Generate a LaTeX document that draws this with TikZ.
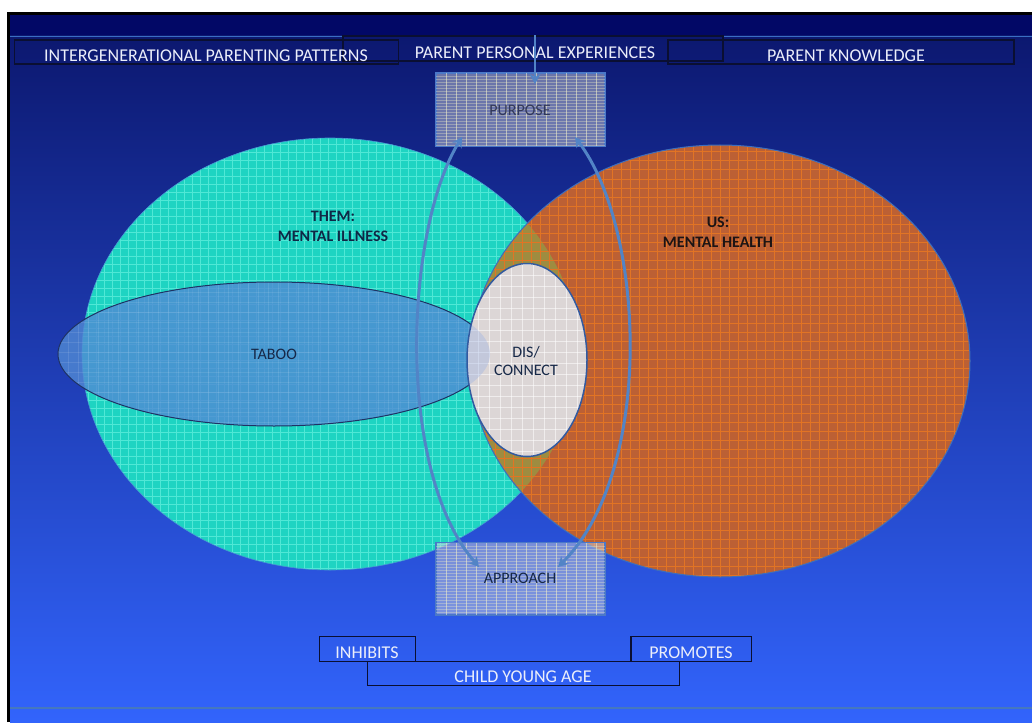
\documentclass[tikz,border=0pt]{standalone}
\usepackage{fontspec}
\setmainfont{Carlito}
\usetikzlibrary{arrows.meta}
\definecolor{navytop}{RGB}{2,8,102}
\definecolor{gradtop}{RGB}{12,24,112}
\definecolor{gradbot}{RGB}{50,100,252}
\definecolor{topline}{RGB}{58,110,195}
\definecolor{botline}{RGB}{70,120,190}
\definecolor{cyanfill}{RGB}{30,212,194}
\definecolor{cyangrid}{RGB}{80,232,214}
\definecolor{cyanedge}{RGB}{70,150,210}
\definecolor{orangefill}{RGB}{188,96,52}
\definecolor{orangegrid}{RGB}{226,116,36}
\definecolor{olivefill}{RGB}{158,140,64}
\definecolor{orangeedge}{RGB}{60,110,190}
\definecolor{taboofill}{RGB}{81,138,212}
\definecolor{tabooedge}{RGB}{30,50,100}
\definecolor{tabootint}{RGB}{150,175,230}
\definecolor{disfill}{RGB}{220,214,214}
\definecolor{disedge}{RGB}{50,90,160}
\definecolor{boxfill}{RGB}{200,205,218}
\definecolor{boxgrid}{RGB}{238,236,200}
\definecolor{boxedge}{RGB}{75,120,200}
\definecolor{arrowblue}{RGB}{82,132,198}
\definecolor{lbledge}{RGB}{10,15,50}
\definecolor{lbltext}{RGB}{235,238,250}
\definecolor{txtdark}{RGB}{22,40,72}
\definecolor{txtthem}{RGB}{15,40,70}
\definecolor{txtus}{RGB}{28,20,20}
\definecolor{txtpurpose}{RGB}{50,56,88}
\tikzset{
  lblbox/.style={draw=lbledge, line width=1.2pt, inner sep=0pt, fill=none},
  toptext/.style={text=lbltext, inner sep=0pt, font=\fontsize{18}{21}\selectfont},
  bodytext/.style={text=txtdark, inner sep=0pt, align=center, font=\fontsize{16}{20}\selectfont},
  boldtext/.style={inner sep=0pt, align=center, font=\fontsize{16}{20}\selectfont\bfseries},
  gridbox/.style={draw=boxedge, line width=1.2pt, fill=boxfill, fill opacity=0.5, inner sep=0pt},
  gline/.style={line width=0.7pt, draw=cyangrid},
  oline/.style={line width=1pt, draw=orangegrid},
  bvline/.style={line width=0.6pt, draw=boxgrid, opacity=0.6},
  bhline/.style={line width=0.5pt, draw=boxgrid, opacity=0.35},
  darr/.style={line width=3pt, draw=arrowblue, {Stealth[length=10pt,width=11pt]}-{Stealth[length=10pt,width=11pt]}},
  sarr/.style={line width=2.6pt, draw=arrowblue, -{Stealth[length=10pt,width=11pt]}}
}
\begin{document}
\begin{tikzpicture}[x=1pt,y=-1pt]
\useasboundingbox (0,0) rectangle (1032,722);
\fill[white] (0,0) rectangle (1032,722);
% slide background
\fill[navytop] (10,15) rectangle (1032,36);
\shade[top color=gradtop, bottom color=gradbot] (10,36) rectangle (1032,722);
\draw[black, line width=3pt] (8.5,722) -- (8.5,13.5) -- (1032,13.5);
\draw[topline, line width=1.5pt] (10,36.5) -- (343,36.5);
\draw[topline, line width=1.5pt] (723,36.5) -- (1032,36.5);
\draw[botline, line width=1.2pt] (10,708) -- (1032,708);

% THEM ellipse (cyan)
\begin{scope}
  \clip (330,354) ellipse [x radius=248, y radius=216];
  \fill[cyanfill] (80,136) rectangle (580,572);
  \foreach \i in {0,...,63} \draw[gline] (80+8*\i,136) -- (80+8*\i,572);
  \foreach \i in {0,...,55} \draw[gline] (80,136+8*\i) -- (580,136+8*\i);
\end{scope}
\draw[cyanedge, line width=0.6pt] (330,354) ellipse [x radius=248, y radius=216];

% US ellipse (orange)
\begin{scope}
  \clip (720,361) ellipse [x radius=250, y radius=216];
  \fill[orangefill] (468,143) rectangle (972,579);
  \foreach \i in {0,...,56} \draw[oline] (468+9*\i,143) -- (468+9*\i,579);
  \foreach \i in {0,...,49} \draw[oline] (468,143+9*\i) -- (972,143+9*\i);
\end{scope}
% overlap
\begin{scope}
  \clip (330,354) ellipse [x radius=248, y radius=216];
  \clip (720,361) ellipse [x radius=250, y radius=216];
  \fill[olivefill] (468,143) rectangle (600,579);
  \foreach \i in {0,...,15} \draw[oline] (468+9*\i,143) -- (468+9*\i,579);
  \foreach \i in {0,...,49} \draw[oline] (468,143+9*\i) -- (600,143+9*\i);
\end{scope}
\draw[orangeedge, line width=1pt] (720,361) ellipse [x radius=250, y radius=216];

% TABOO ellipse
\fill[taboofill, fill opacity=0.8] (274,354) ellipse [x radius=216, y radius=72];
\begin{scope}
  \clip (274,354) ellipse [x radius=216, y radius=72];
  \foreach \i in {0,...,43} \draw[white, opacity=0.1, line width=0.6pt] (58+10*\i,280) -- (58+10*\i,428);
  \foreach \i in {0,...,15} \draw[white, opacity=0.1, line width=0.6pt] (58,282+10*\i) -- (492,282+10*\i);
\end{scope}
\draw[tabooedge, line width=1pt] (274,354) ellipse [x radius=216, y radius=72];

% DIS/CONNECT ellipse
\fill[disfill] (527,360) ellipse [x radius=60, y radius=96.5];
\begin{scope}
  \clip (527,360) ellipse [x radius=60, y radius=96.5];
  \foreach \i in {0,...,11} \draw[white, opacity=0.55, line width=0.8pt] (467+11*\i,262) -- (467+11*\i,458);
  \foreach \i in {0,...,18} \draw[white, opacity=0.55, line width=0.8pt] (466,264+11*\i) -- (588,264+11*\i);
  \fill[tabootint, fill opacity=0.35] (274,354) ellipse [x radius=216, y radius=72];
\end{scope}
\draw[disedge, line width=1.5pt] (527,360) ellipse [x radius=60, y radius=96.5];

% texts in ellipses
\node[boldtext, text=txtthem] (them) at (333,226) {THEM:\\MENTAL ILLNESS};
\node[boldtext, text=txtus] (us) at (718,232.6) {US:\\MENTAL HEALTH};
\node[bodytext] (taboo) at (274,354) {TABOO};
\node[bodytext, font=\fontsize{16}{18.5}\selectfont] (dis) at (526,361) {DIS/\\CONNECT};

% PURPOSE and APPROACH boxes
\node[gridbox, minimum width=169pt, minimum height=73pt] (purpose) at (520.5,109.7) {};
\node[gridbox, minimum width=169pt, minimum height=72pt] (approach) at (520.5,578.8) {};
\foreach \bx/\by in {436/73.2, 436/542.8}{
  \begin{scope}
    \clip (\bx,\by) rectangle (\bx+169,\by+72.5);
    \foreach \i in {1,...,16} \draw[bvline] (\bx+10*\i,\by) -- (\bx+10*\i,\by+73);
    \foreach \i in {1,...,24} \draw[bhline] (\bx,\by+3*\i) -- (\bx+169,\by+3*\i);
  \end{scope}
}
\draw[boxedge, line width=1.2pt] (purpose.south west) rectangle (purpose.north east);
\draw[boxedge, line width=1.2pt] (approach.south west) rectangle (approach.north east);
\node[bodytext, text=txtpurpose] (purposetxt) at (520,110.8) {PURPOSE};
\node[bodytext] (approachtxt) at (520,578.7) {APPROACH};

% top label boxes
\node[lblbox, minimum width=384pt, minimum height=24pt] (ippbox) at (206.5,52) {};
\node[lblbox, minimum width=380pt, minimum height=25pt] (ppebox) at (533,48.5) {};
\node[lblbox, minimum width=346pt, minimum height=24pt] (pkbox) at (841,52) {};
\node[toptext] (ipp) at (206,55.5) {INTERGENERATIONAL PARENTING PATTERNS};
\node[toptext] (ppe) at (535,53) {PARENT PERSONAL EXPERIENCES};
\node[toptext] (pk) at (846,56) {PARENT KNOWLEDGE};

% bottom label boxes
\node[lblbox, minimum width=96pt, minimum height=24.6pt] (inhbox) at (367.3,649) {};
\node[lblbox, minimum width=120.7pt, minimum height=24.6pt] (probox) at (691.3,649) {};
\node[lblbox, minimum width=312pt, minimum height=24pt] (childbox) at (523.3,673.3) {};
\node[toptext] (inh) at (367,653) {INHIBITS};
\node[toptext] (pro) at (691,653) {PROMOTES};
\node[toptext] (child) at (523,677) {CHILD YOUNG AGE};

% arrows
\coordinate (ptop) at (535,84);
\coordinate (pl) at (462,137);
\coordinate (pr) at (575,137);
\coordinate (al) at (479,567);
\coordinate (ar) at (558,567);
\draw[sarr] (ppebox.north -| ptop) -- (ptop);
\draw[darr] (al) .. controls (395,470) and (405,230) .. (pl);
\draw[darr] (ar) .. controls (655,470) and (645,230) .. (pr);
\end{tikzpicture}
\end{document}
